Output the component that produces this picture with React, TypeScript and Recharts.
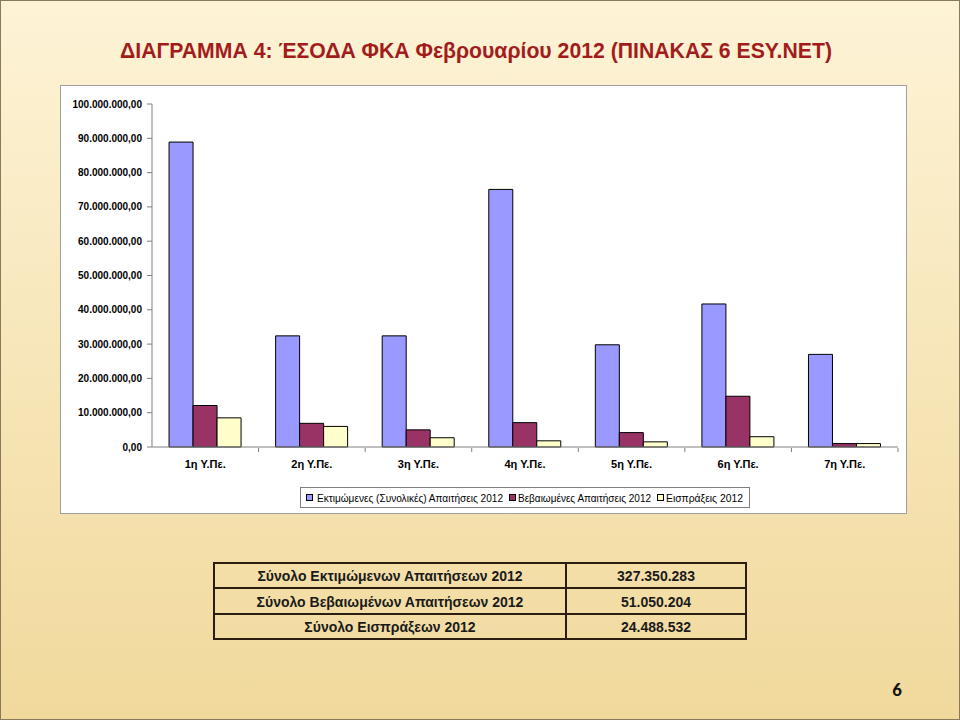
import { BarChart, Bar, XAxis, YAxis } from 'recharts'

const regions = ['1η Υ.Πε.', '2η Υ.Πε.', '3η Υ.Πε.', '4η Υ.Πε.', '5η Υ.Πε.', '6η Υ.Πε.', '7η Υ.Πε.']
const estimated = [88900000, 32400000, 32400000, 75100000, 29800000, 41700000, 27000000]
const certified = [12100000, 6900000, 5000000, 7100000, 4200000, 14800000, 1000000]
const collected = [8500000, 6000000, 2700000, 1800000, 1500000, 3000000, 1000000]
const yTicks = [0, 10000000, 20000000, 30000000, 40000000, 50000000, 60000000, 70000000, 80000000, 90000000, 100000000]

const seriesNames = [
  'Εκτιμώμενες (Συνολικές) Απαιτήσεις 2012',
  'Βεβαιωμένες Απαιτήσεις 2012',
  'Εισπράξεις 2012'
]
const totalLabels = [
  'Σύνολο Εκτιμώμενων Απαιτήσεων 2012',
  'Σύνολο Βεβαιωμένων Απαιτήσεων 2012',
  'Σύνολο Εισπράξεων 2012'
]
const totalValues = ['327.350.283', '51.050.204', '24.488.532']

const COLORS = ['#9999FF', '#993366', '#FFFFCC']

const data = regions.map((name, i) => ({
  name,
  estimated: estimated[i],
  certified: certified[i],
  collected: collected[i]
}))

const fmt = (v: number) =>
  String(Math.round(v)).replace(/\B(?=(\d{3})+(?!\d))/g, '.') + ',00'

const CHART_W = 846
const CHART_H = 428
const Y_W = 92
const M_RIGHT = 8
const HALF_BAND = (CHART_W - Y_W - M_RIGHT) / regions.length / 2

const SANS = "'Liberation Sans', Arial, sans-serif"

const CatTick = ({ x, y, payload }: any) => (
  <g>
    <line x1={x + HALF_BAND} x2={x + HALF_BAND} y1={y - 5} y2={y - 1} stroke="#808080" />
    <text x={x} y={y + 15} textAnchor="middle" fontFamily={SANS} fontWeight="bold" fontSize={11} fill="#000">
      {payload.value}
    </text>
  </g>
)

// legend item positions (marker x, text start, text width)
const legendPos = [
  { mx: 306, tx: 317, w: 186 },
  { mx: 509, tx: 518, w: 133 },
  { mx: 657, tx: 666, w: 77 }
]

const App = () => {
  return (
    <div style={{ position: 'absolute', left: 0, top: 0, width: 960, height: 720, overflow: 'hidden' }}>
      <svg width={960} height={720} style={{ position: 'absolute', left: 0, top: 0 }}>
        <defs>
          <linearGradient id="bg" x1="0" y1="0" x2="0" y2="1">
            <stop offset="0%" stopColor="#fdf3d6" />
            <stop offset="100%" stopColor="#f1d99c" />
          </linearGradient>
        </defs>
        <rect x={0} y={0} width={960} height={720} fill="url(#bg)" />
        <rect x={0.5} y={0.5} width={959} height={719} fill="none" stroke="#8a7a5c" />
        <text
          x={476}
          y={58}
          textAnchor="middle"
          fontFamily={SANS}
          fontWeight="bold"
          fontSize={22}
          fill="#a31c1c"
          textLength={712}
          lengthAdjust="spacingAndGlyphs"
        >
          ΔΙΑΓΡΑΜΜΑ 4: ΈΣΟΔΑ ΦΚΑ Φεβρουαρίου 2012 (ΠΙΝΑΚΑΣ 6 ESY.NET)
        </text>
        <rect x={60.5} y={85.5} width={846} height={428} fill="#fff" stroke="#a0a0a0" />

        {/* totals table */}
        <g stroke="#2b1d10" strokeWidth={2} fill="none">
          <rect x={214} y={563} width={532} height={76} />
          <line x1={214} x2={746} y1={588} y2={588} />
          <line x1={214} x2={746} y1={614} y2={614} />
          <line x1={566} x2={566} y1={563} y2={639} />
        </g>
        {totalLabels.map((t, i) => (
          <g key={t} fontFamily={SANS} fontWeight="bold" fontSize={14} fill="#1a1a1a">
            <text x={390} y={581 + i * 25.5} textAnchor="middle">{t}</text>
            <text x={656} y={581 + i * 25.5} textAnchor="middle">{totalValues[i]}</text>
          </g>
        ))}
        <text x={897} y={696} textAnchor="middle" fontFamily="Carlito, 'Open Sans', sans-serif" fontWeight="bold" fontSize={19} fill="#111">
          6
        </text>
      </svg>

      <div style={{ position: 'absolute', left: 60, top: 85 }}>
        <BarChart
          width={CHART_W}
          height={CHART_H}
          data={data}
          margin={{ top: 19, right: M_RIGHT, left: 0, bottom: 36 }}
          barCategoryGap="16%"
          barGap={0}
        >
          <XAxis
            dataKey="name"
            stroke="#808080"
            tickLine={false}
            tickSize={6}
            tickMargin={0}
            height={30}
            tick={<CatTick />}
            interval={0}
          />
          <YAxis
            width={Y_W}
            domain={[0, 100000000]}
            ticks={yTicks}
            tickFormatter={fmt}
            stroke="#808080"
            tickSize={5}
            tickMargin={5}
            tick={{ fill: '#000', fontSize: 10, fontWeight: 'bold', fontFamily: SANS }}
            interval={0}
          />
          <Bar dataKey="estimated" fill={COLORS[0]} stroke="#000" strokeWidth={1} isAnimationActive={false} />
          <Bar dataKey="certified" fill={COLORS[1]} stroke="#000" strokeWidth={1} isAnimationActive={false} />
          <Bar dataKey="collected" fill={COLORS[2]} stroke="#000" strokeWidth={1} isAnimationActive={false} />
        </BarChart>
      </div>

      {/* legend */}
      <svg width={960} height={720} style={{ position: 'absolute', left: 0, top: 0, pointerEvents: 'none' }}>
        <rect x={300.5} y={487.5} width={449} height={20} fill="#fff" stroke="#808080" />
        {seriesNames.map((n, i) => (
          <g key={n}>
            <rect x={legendPos[i].mx + 0.5} y={494.5} width={6} height={6} fill={COLORS[i]} stroke="#000" />
            <text
              x={legendPos[i].tx}
              y={501.5}
              fontFamily={SANS}
              fontSize={11}
              fill="#000"
              textLength={legendPos[i].w}
              lengthAdjust="spacingAndGlyphs"
            >
              {n}
            </text>
          </g>
        ))}
      </svg>
    </div>
  )
}

export default App
